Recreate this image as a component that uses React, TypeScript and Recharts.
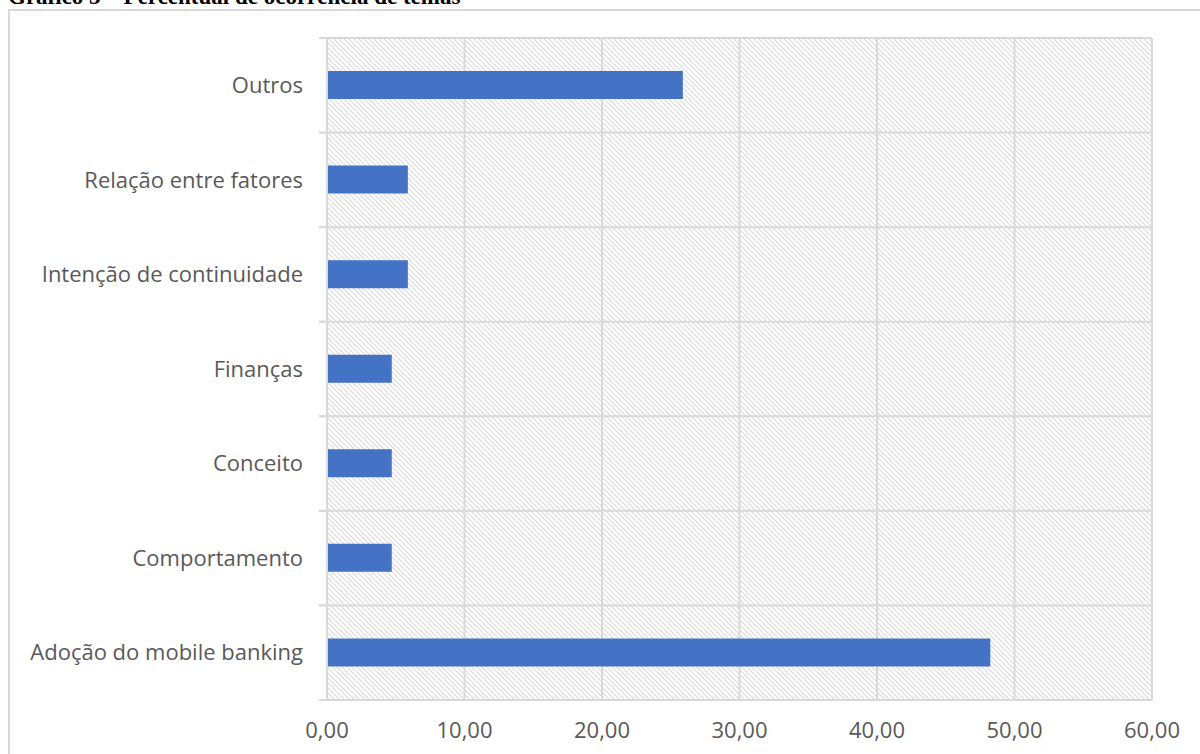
import React from 'react';
import {
  BarChart,
  Bar,
  XAxis,
  YAxis,
  CartesianGrid,
} from 'recharts';

// 类别（自上而下）与百分比
const categories = [
  'Outros',
  'Relação entre fatores',
  'Intenção de continuidade',
  'Finanças',
  'Conceito',
  'Comportamento',
  'Adoção do mobile banking',
];
const percentages = [25.88, 5.88, 5.88, 4.71, 4.71, 4.71, 48.24];
const xTicks = [0, 10, 20, 30, 40, 50, 60];

const CHART_W = 1200;
const CHART_H = 754;
const MARGIN_TOP = 38;
const XAXIS_H = 54;
const YAXIS_W = 327;
const BAND = (CHART_H - MARGIN_TOP - XAXIS_H) / categories.length;

const GRID = '#d9d9d9';
const TEXT = '#595959';
const FONT = '"Open Sans", "Noto Sans", sans-serif';
const FONT_SIZE = 22;

const data = categories.map((name, i) => ({ name, value: percentages[i] }));

const fmt = (v: number) => v.toFixed(2).replace('.', ',');

// 左侧类别标签 + 分界处的小刻度线
const CategoryTick = (props: any) => {
  const { x, y, payload } = props;
  return (
    <g>
      <line x1={x + 16} x2={x + 24} y1={y - BAND / 2} y2={y - BAND / 2} stroke={GRID} strokeWidth={2} />
      <line x1={x + 16} x2={x + 24} y1={y + BAND / 2} y2={y + BAND / 2} stroke={GRID} strokeWidth={2} />
      <text x={x} y={y} dy="0.35em" textAnchor="end" fill={TEXT} fontSize={FONT_SIZE} fontFamily={FONT}>
        {payload.value}
      </text>
    </g>
  );
};

export default function App() {
  return (
    <div
      style={{
        position: 'absolute',
        left: 0,
        top: 0,
        width: CHART_W,
        height: CHART_H,
        overflow: 'hidden',
        background: '#fff',
      }}
    >
      <svg width={CHART_W} height={20} style={{ position: 'absolute', left: 0, top: 0 }}>
        <text x={8} y={4} fontFamily='"Liberation Serif", "Times New Roman", serif' fontWeight="bold" fontSize={23} fill="#000">
          Gráfico 3 – Percentual de ocorrência de temas
        </text>
      </svg>
      <div
        style={{
          position: 'absolute',
          left: 8,
          top: 9,
          width: CHART_W,
          height: CHART_H,
          border: `2px solid ${GRID}`,
          boxSizing: 'border-box',
        }}
      />
      <div style={{ position: 'absolute', left: 0, top: 0 }}>
        <BarChart
          width={CHART_W}
          height={CHART_H}
          data={data}
          layout="vertical"
          margin={{ top: MARGIN_TOP, right: 48, bottom: 0, left: 0 }}
        >
          <defs>
            <pattern id="hatch" patternUnits="userSpaceOnUse" width={5} height={5}>
              <path d="M-1,-1 L6,6 M-1,4 L1,6 M4,-1 L6,1" stroke="#d9d9d9" strokeWidth={1.1} />
            </pattern>
          </defs>
          <CartesianGrid
            stroke={GRID}
            strokeWidth={2}
            fill="url(#hatch)"
            horizontalCoordinatesGenerator={({ offset }: any) =>
              Array.from({ length: categories.length + 1 }, (_, i) => offset.top + (i * offset.height) / categories.length)
            }
          />
          <XAxis
            type="number"
            domain={[0, 60]}
            ticks={xTicks}
            tickFormatter={fmt}
            height={XAXIS_H}
            axisLine={{ stroke: GRID, strokeWidth: 2 }}
            tickLine={false}
            tickSize={0}
            tickMargin={22}
            tick={{ fill: TEXT, fontSize: FONT_SIZE, fontFamily: FONT }}
          />
          <YAxis
            type="category"
            dataKey="name"
            width={YAXIS_W}
            axisLine={{ stroke: GRID, strokeWidth: 2 }}
            tickLine={false}
            tickSize={0}
            tickMargin={24}
            tick={<CategoryTick />}
            interval={0}
          />
          <Bar dataKey="value" fill="#4472C4" barSize={28} isAnimationActive={false} />
        </BarChart>
      </div>
    </div>
  );
}
